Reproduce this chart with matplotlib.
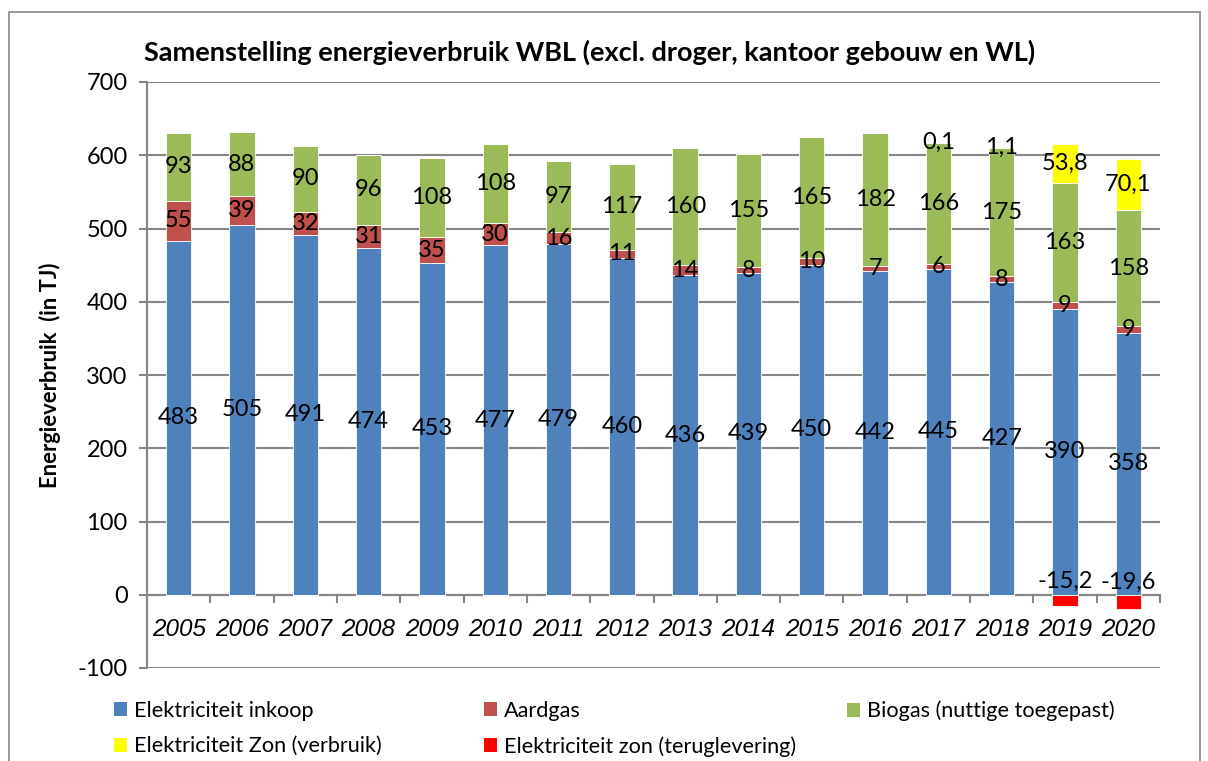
import matplotlib
matplotlib.use("Agg")
import matplotlib.pyplot as plt
import numpy as np
from matplotlib.patches import Rectangle, Patch

years = ["2005", "2006", "2007", "2008", "2009", "2010", "2011", "2012",
         "2013", "2014", "2015", "2016", "2017", "2018", "2019", "2020"]
inkoop = [483, 505, 491, 474, 453, 477, 479, 460, 436, 439, 450, 442, 445, 427, 390, 358]
aardgas = [55, 39, 32, 31, 35, 30, 16, 11, 14, 8, 10, 7, 6, 8, 9, 9]
biogas = [93, 88, 90, 96, 108, 108, 97, 117, 160, 155, 165, 182, 166, 175, 163, 158]
zon_verbruik = [0, 0, 0, 0, 0, 0, 0, 0, 0, 0, 0, 0, 0.1, 1.1, 53.8, 70.1]
zon_terug = [0, 0, 0, 0, 0, 0, 0, 0, 0, 0, 0, 0, 0, 0, -15.2, -19.6]

series_names = ["Elektriciteit inkoop", "Aardgas", "Biogas (nuttige toegepast)",
                "Elektriciteit Zon (verbruik)", "Elektriciteit zon (teruglevering)"]
colors = ["#4F81BD", "#C0504D", "#9BBB59", "#FFFF00", "#FF0000"]

plt.rcParams['font.family'] = ['Lato', 'DejaVu Sans']
plt.rcParams['axes.unicode_minus'] = False

fig = plt.figure(figsize=(12.08, 7.61), dpi=100)
ax = fig.add_axes([147/1208, 1-668/761, (1160-147)/1208, (668-82)/761])

x = np.arange(len(years))
w = 0.4
pos_series = [inkoop, aardgas, biogas, zon_verbruik]
bottom = np.zeros(len(years))
for vals, col in zip(pos_series, colors[:4]):
    v = np.array(vals, dtype=float)
    ax.bar(x, v, w, bottom=bottom, color=col, edgecolor='white', linewidth=0.6, zorder=3)
    for i in range(len(years)):
        if vals[i] != 0:
            txt = ("%g" % vals[i]).replace('.', ',')
            ax.text(x[i], bottom[i] + v[i] / 2, txt, ha='center', va='center',
                    fontsize=17, color='black', zorder=5)
    bottom += v

tv = np.array(zon_terug, dtype=float)
ax.bar(x, tv, w, color=colors[4], edgecolor='white', linewidth=0.6, zorder=3)
for i in range(len(years)):
    if zon_terug[i] != 0:
        txt = ("%g" % zon_terug[i]).replace('.', ',')
        ax.annotate(txt, (x[i], tv[i] / 2), xytext=(0, 14), textcoords='offset points',
                    ha='center', va='center', fontsize=17, color='black', zorder=5)

ax.set_xlim(-0.5, len(years) - 0.5)
ax.set_ylim(-100, 700)
ax.set_yticks(np.arange(-100, 701, 100))
ax.yaxis.grid(True, color='#868686', linewidth=1.5, zorder=0)
ax.set_axisbelow(True)
ax.tick_params(axis='y', labelsize=17, length=6, width=1.5, color='#868686', pad=8)

# category axis: tick marks at boundaries, italic labels at centres
ax.set_xticks(np.arange(-0.5, len(years), 1))
ax.tick_params(axis='x', length=6, width=1.5, color='#868686', labelbottom=False)
for i, yr in enumerate(years):
    ax.annotate(yr, (x[i], 0), xytext=(0, -35), textcoords='offset pixels',
                ha='center', va='center', fontsize=17.5, style='italic',
                family=['Liberation Sans', 'DejaVu Sans'], annotation_clip=False)

for s in ['top', 'right']:
    ax.spines[s].set_visible(False)
ax.spines['bottom'].set_position(('data', 0))
ax.spines['bottom'].set_color('#868686')
ax.spines['bottom'].set_linewidth(1.5)
ax.spines['left'].set_color('#868686')
ax.spines['left'].set_linewidth(1.5)

ax.set_ylabel("Energieverbruik  (in TJ)", fontsize=15.8, fontweight='bold', labelpad=12)
fig.text(590/1208, 1-52/761, "Samenstelling energieverbruik WBL (excl. droger, kantoor gebouw en WL)",
         ha='center', va='center', fontsize=19.5, fontweight='bold')

# legend, three columns
handles = [Patch(facecolor=c, edgecolor='none') for c in colors]
cols = [[0, 3], [1, 4], [2]]
xs = [105 / 1208, 475 / 1208, 838 / 1208]
for cidx, xpos in zip(cols, xs):
    fig.legend([handles[i] for i in cidx], [series_names[i] for i in cidx],
               loc='upper left', bbox_to_anchor=(xpos, 1 - 692 / 761),
               frameon=False, fontsize=15.6, handlelength=0.62, handleheight=0.62,
               handletextpad=0.3, labelspacing=0.72, borderaxespad=0)

fig.patches.append(Rectangle((9/1208, -0.05), (1200-9)/1208, 1 - 12/761 + 0.05,
                             transform=fig.transFigure, fill=False,
                             edgecolor='#868686', linewidth=1.2))

fig.savefig("out.png", dpi=100)
